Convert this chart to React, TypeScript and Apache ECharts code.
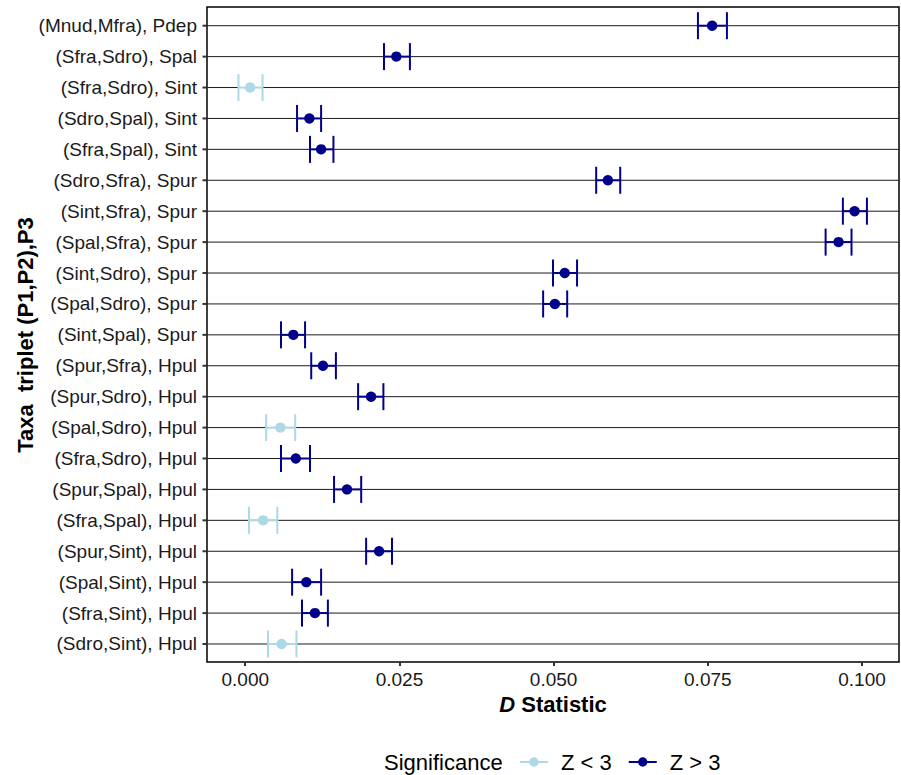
import React, { useEffect, useRef } from "react";
import * as echarts from "echarts";

const categories = [
  "(Mnud,Mfra), Pdep",
  "(Sfra,Sdro), Spal",
  "(Sfra,Sdro), Sint",
  "(Sdro,Spal), Sint",
  "(Sfra,Spal), Sint",
  "(Sdro,Sfra), Spur",
  "(Sint,Sfra), Spur",
  "(Spal,Sfra), Spur",
  "(Sint,Sdro), Spur",
  "(Spal,Sdro), Spur",
  "(Sint,Spal), Spur",
  "(Spur,Sfra), Hpul",
  "(Spur,Sdro), Hpul",
  "(Spal,Sdro), Hpul",
  "(Sfra,Sdro), Hpul",
  "(Spur,Spal), Hpul",
  "(Sfra,Spal), Hpul",
  "(Spur,Sint), Hpul",
  "(Spal,Sint), Hpul",
  "(Sfra,Sint), Hpul",
  "(Sdro,Sint), Hpul",
];

const dValues = [
  0.0757, 0.0245, 0.0008, 0.0104, 0.0123, 0.0588, 0.0988, 0.0962, 0.0518, 0.0502,
  0.0078, 0.0126, 0.0204, 0.0057, 0.0082, 0.0165, 0.0029, 0.0217, 0.0099, 0.0113, 0.0059,
];

const lowerValues = [
  0.0734, 0.0225, -0.0011, 0.0084, 0.0105, 0.0569, 0.0969, 0.0941, 0.0499, 0.0483,
  0.0058, 0.0107, 0.0183, 0.0034, 0.0058, 0.0144, 0.0006, 0.0196, 0.0076, 0.0092, 0.0037,
];

const upperValues = [
  0.0781, 0.0267, 0.0028, 0.0123, 0.0143, 0.0608, 0.1008, 0.0983, 0.0538, 0.0522,
  0.0097, 0.0147, 0.0224, 0.0081, 0.0105, 0.0188, 0.0052, 0.0238, 0.0123, 0.0134, 0.0083,
];

const significance = [
  "Z > 3", "Z > 3", "Z < 3", "Z > 3", "Z > 3", "Z > 3", "Z > 3", "Z > 3", "Z > 3", "Z > 3",
  "Z > 3", "Z > 3", "Z > 3", "Z < 3", "Z > 3", "Z > 3", "Z < 3", "Z > 3", "Z > 3", "Z > 3", "Z < 3",
];

const xTicks = [0, 0.025, 0.05, 0.075, 0.1];
const groups = ["Z < 3", "Z > 3"];
const groupColors = ["#ADD8E6", "#00008B"];

const FONT = "'Liberation Sans', Arial, Helvetica, sans-serif";

export default function App() {
  const ref = useRef<HTMLDivElement>(null);

  useEffect(() => {
    const chart = echarts.init(ref.current!, null, { renderer: "svg" });
    const xMin = -0.0062;
    const xMax = 0.106;

    const makeRender = (color: string) => (params: any, api: any) => {
      const lo = api.coord([api.value(0), api.value(2)]);
      const hi = api.coord([api.value(1), api.value(2)]);
      const mid = api.coord([api.value(3), api.value(2)]);
      const h = 13.5;
      const st = { stroke: color, lineWidth: 2 };
      return {
        type: "group",
        children: [
          { type: "line", shape: { x1: lo[0], y1: lo[1], x2: hi[0], y2: hi[1] }, style: st },
          { type: "line", shape: { x1: lo[0], y1: lo[1] - h, x2: lo[0], y2: lo[1] + h }, style: st },
          { type: "line", shape: { x1: hi[0], y1: hi[1] - h, x2: hi[0], y2: hi[1] + h }, style: st },
          { type: "circle", shape: { cx: mid[0], cy: mid[1], r: 5.2 }, style: { fill: color } },
        ],
      };
    };

    const groupSeries = groups.map((g, gi) => ({
      type: "custom",
      name: g,
      xAxisIndex: 0,
      yAxisIndex: 0,
      itemStyle: { color: groupColors[gi] },
      encode: { x: [0, 1, 3], y: 2 },
      renderItem: makeRender(groupColors[gi]),
      data: categories
        .map((_, i) => [lowerValues[i], upperValues[i], i, dValues[i], significance[i]])
        .filter((d) => d[4] === g)
        .map((d) => [d[0], d[1], d[2], d[3]]),
      z: 3,
    }));

    // horizontal major grid lines at each category plus the small outward y ticks
    const gridLineSeries = {
      type: "custom",
      name: "gridlines",
      xAxisIndex: 0,
      yAxisIndex: 0,
      silent: true,
      clip: false,
      encode: { x: 0, y: 1 },
      renderItem: (params: any, api: any) => {
        const p = api.coord([0, api.value(1)]);
        const cs = params.coordSys;
        return {
          type: "group",
          children: [
            {
              type: "line",
              shape: { x1: cs.x, y1: p[1], x2: cs.x + cs.width, y2: p[1] },
              style: { stroke: "#1a1a1a", lineWidth: 1 },
            },
            {
              type: "line",
              shape: { x1: cs.x - 4.5, y1: p[1], x2: cs.x, y2: p[1] },
              style: { stroke: "#333333", lineWidth: 2 },
            },
          ],
        };
      },
      data: categories.map((_, i) => [0, i]),
      z: 1,
    };

    const legendIcon =
      "path://M0,4L30,4L30,6L0,6Z M20,5A5,5,0,1,1,10,5A5,5,0,1,1,20,5Z";

    chart.setOption({
      animation: false,
      backgroundColor: "#ffffff",
      textStyle: { fontFamily: FONT },
      grid: [
        { left: 207, top: 10.25, width: 692, height: 649.2, show: false },
        {
          left: 207,
          top: 7,
          width: 692,
          height: 655,
          show: true,
          borderColor: "#000000",
          borderWidth: 1.5,
          backgroundColor: "transparent",
        },
      ],
      xAxis: [
        {
          type: "value",
          gridIndex: 0,
          min: xMin,
          max: xMax,
          show: false,
        },
        {
          type: "value",
          gridIndex: 1,
          min: xMin,
          max: xMax,
          axisLine: { show: false, onZero: false },
          splitLine: { show: false },
          axisTick: {
            show: true,
            customValues: xTicks,
            length: 4,
            lineStyle: { color: "#333333", width: 2 },
          },
          axisLabel: {
            customValues: xTicks,
            formatter: (v: number) => v.toFixed(3),
            fontSize: 19,
            color: "#1a1a1a",
            fontFamily: FONT,
            margin: 8,
          },
        },
      ],
      yAxis: [
        {
          type: "category",
          gridIndex: 0,
          data: categories,
          inverse: true,
          position: "left",
          axisLine: { show: false, onZero: false },
          splitLine: { show: false },
          axisTick: { show: false },
          axisLabel: {
            fontSize: 19,
            color: "#1a1a1a",
            fontFamily: FONT,
            margin: 10,
          },
        },
        {
          type: "value",
          gridIndex: 1,
          min: 0,
          max: 1,
          show: false,
        },
      ],
      legend: {
        data: groups,
        left: 520,
        top: 751,
        padding: 0,
        icon: legendIcon,
        itemWidth: 28,
        itemHeight: 10,
        itemGap: 17,
        textStyle: {
          fontSize: 22,
          lineHeight: 20,
          color: "#000000",
          fontFamily: FONT,
          padding: [0, 0, 0, 8],
        },
      },
      graphic: [
        {
          type: "text",
          x: 25,
          y: 335,
          rotation: Math.PI / 2,
          style: {
            text: "Taxa  triplet (P1,P2),P3",
            font: `bold 22px ${FONT}`,
            fill: "#000000",
            align: "center",
            verticalAlign: "middle",
          },
        },
        {
          type: "text",
          x: 553,
          y: 704,
          style: {
            text: "{i|D} Statistic",
            font: `bold 22px ${FONT}`,
            fill: "#000000",
            align: "center",
            verticalAlign: "middle",
            rich: {
              i: { fontStyle: "italic", fontWeight: "bold", fontSize: 22, fontFamily: FONT, fill: "#000000" },
            },
          },
        },
        {
          type: "text",
          x: 384,
          y: 762,
          style: {
            text: "Significance",
            font: `22px ${FONT}`,
            fill: "#000000",
            align: "left",
            verticalAlign: "middle",
          },
        },
      ],
      series: [gridLineSeries, ...groupSeries],
    });

    return () => chart.dispose();
  }, []);

  return (
    <div
      ref={ref}
      style={{ position: "fixed", left: 0, top: 0, width: 901, height: 775, background: "#fff" }}
    />
  );
}
